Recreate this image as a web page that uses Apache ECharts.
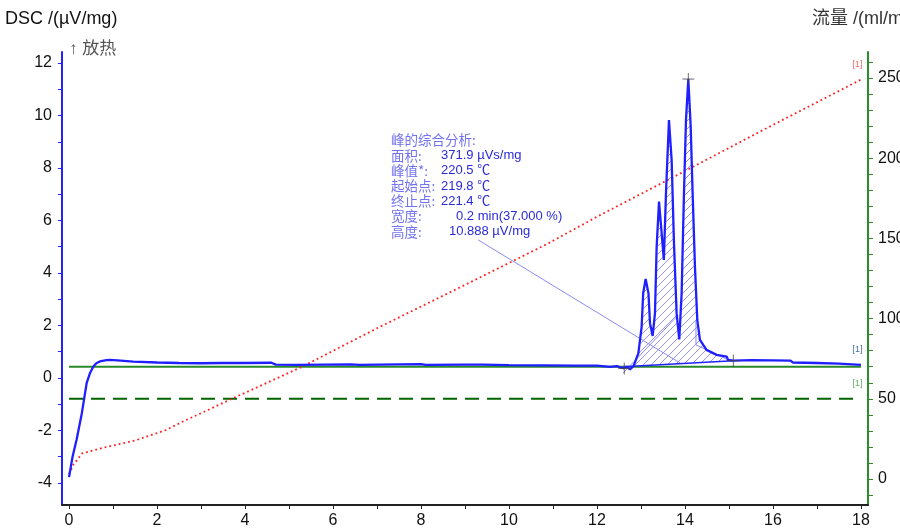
<!DOCTYPE html>
<html>
<head>
<meta charset="utf-8">
<script src="https://cdn.jsdelivr.net/npm/echarts@6/dist/echarts.min.js"></script>
<style>
  html, body { margin: 0; padding: 0; background: #fff; }
  #chart { width: 900px; height: 529px; }
</style>
</head>
<body>
<div id="chart"></div>
<script>
// DSC signal (left axis, µV/mg) against time (min)
const dscTime = [0.00, 0.08, 0.17, 0.29, 0.40, 0.48, 0.55, 0.62, 0.70, 0.85, 0.93, 1.10, 1.46, 2.0, 2.5, 3.0, 3.5, 4.0, 4.6, 4.7,
  5.2, 5.8, 6.4, 6.6, 7.5, 8.0, 8.1, 9.0, 9.4, 10.0, 10.8, 11.5, 12.0, 12.3, 12.45, 12.6, 12.68, 12.75, 12.83, 12.94,
  13.015, 13.05, 13.106, 13.17, 13.205, 13.265, 13.318, 13.356, 13.41, 13.47, 13.52, 13.568, 13.636, 13.697, 13.75, 13.81, 13.87, 13.924, 13.977, 14.023,
  14.076, 14.13, 14.174, 14.227, 14.28, 14.34, 14.49, 14.72, 14.95, 14.98, 15.1, 15.5, 16.0, 16.4, 16.45, 17.0, 17.5, 18.0];
const dscValue = [-3.78, -3.0, -2.36, -1.35, -0.2, 0.2, 0.43, 0.56, 0.63, 0.68, 0.69, 0.67, 0.62, 0.59, 0.57, 0.56, 0.57, 0.57, 0.58, 0.51,
  0.50, 0.51, 0.52, 0.50, 0.52, 0.53, 0.50, 0.51, 0.51, 0.49, 0.48, 0.47, 0.47, 0.42, 0.45, 0.37, 0.42, 0.33, 0.45, 0.94,
  1.95, 3.23, 3.77, 3.23, 2.08, 1.6, 2.46, 5.0, 6.72, 5.51, 4.5, 7.03, 9.83, 8.3, 5.13, 2.46, 1.47, 3.23, 7.03, 9.83,
  11.39, 9.57, 7.03, 4.24, 2.21, 1.45, 1.07, 0.88, 0.81, 0.69, 0.66, 0.68, 0.67, 0.66, 0.59, 0.57, 0.55, 0.50];

// red dotted curve (right axis)
const rampTime = [0, 0.1, 0.3, 0.7, 1.5, 2.2, 2.6, 3.0, 3.7, 4.5, 5.3, 7.0, 9.0, 10.9, 12.0, 14.0, 15.7, 18.0];
const rampValue = [3, 9, 16, 19, 24, 30.5, 36, 41, 50, 60, 70, 94, 121, 147, 163.5, 192, 216.5, 249];

// flow levels (right axis, ml/min)
const flowSpan = [0, 18];
const flowSolid = 70;
const flowDashed = 50;

// peak integration
const baseX = [12.6, 15.1];
const baseY = [0.43, 0.66];
const markX = [12.62, 14.076, 15.1];
const markY = [0.36, 11.39, 0.66];
const leaderLine = [[9.3, 5.26], [13.89, 0.57]];
const constructA = [[12.6, 0.2], [13.85, 2.4]];
const constructB = [[14.25, 2.2], [14.25, 1.26], [14.98, 0.69]];

// axes
const xLabels = [0, 2, 4, 6, 8, 10, 12, 14, 16, 18];
const xTicks = [0, 1, 2, 3, 4, 5, 6, 7, 8, 9, 10, 11, 12, 13, 14, 15, 16, 17, 18];
const leftLabels = [-4, -2, 0, 2, 4, 6, 8, 10, 12];
const leftTicks = [-4, -3, -2, -1, 0, 1, 2, 3, 4, 5, 6, 7, 8, 9, 10, 11, 12];
const rightLabels = [0, 50, 100, 150, 200, 250];
const rightTicks = [-10, 0, 10, 20, 30, 40, 50, 60, 70, 80, 90, 100, 110, 120, 130, 140, 150, 160, 170, 180, 190, 200, 210, 220, 230, 240, 250, 260];

const annoLabels = ['峰的综合分析:', '面积:', '峰值*:', '起始点:', '终止点:', '宽度:', '高度:'];
const annoValues = ['', '371.9 µVs/mg', '220.5 ℃', '219.8 ℃', '221.4 ℃', '0.2 min(37.000 %)', '10.888 µV/mg'];

const pair = (xs, ys) => xs.map((x, i) => [x, ys[i]]);
const dscData = pair(dscTime, dscValue);

// outline of the integrated peak: baseline start, curve, baseline end
const peakPts = [[baseX[0], baseY[0]]]
  .concat(dscData.filter(p => p[0] > baseX[0] && p[0] < baseX[1]))
  .concat([[baseX[1], baseY[1]]]);

// diagonal hatch lines clipped to the peak outline (pixel space)
function renderHatch(params, api) {
  const pts = peakPts.map(p => api.coord(p));
  const n = pts.length;
  const step = 8;
  let lo = Infinity, hi = -Infinity;
  pts.forEach(p => { lo = Math.min(lo, p[0] + p[1]); hi = Math.max(hi, p[0] + p[1]); });
  const children = [];
  for (let c = Math.ceil(lo / step) * step; c <= hi; c += step) {
    const xs = [];
    for (let i = 0; i < n; i++) {
      const a = pts[i], b = pts[(i + 1) % n];
      const fa = a[0] + a[1] - c, fb = b[0] + b[1] - c;
      if ((fa < 0) !== (fb < 0)) {
        const t = fa / (fa - fb);
        xs.push(a[0] + t * (b[0] - a[0]));
      }
    }
    xs.sort((m, k) => m - k);
    for (let k = 0; k + 1 < xs.length; k += 2) {
      children.push({
        type: 'line',
        shape: { x1: xs[k], y1: c - xs[k], x2: xs[k + 1], y2: c - xs[k + 1] },
        style: { stroke: '#9494f6', lineWidth: 1 },
      });
    }
  }
  return { type: 'group', children: children };
}

const FONT = '"Liberation Sans", Arial, "Noto Sans CJK SC", sans-serif';
const CJK = '"Noto Sans CJK SC", sans-serif';

const chart = echarts.init(document.getElementById('chart'));

const endTag = (color, dx, dy) => ({
  symbol: 'circle', symbolSize: 1, silent: true,
  itemStyle: { color: 'rgba(0,0,0,0)' },
  label: { show: true, formatter: '[1]', position: [dx, dy], fontSize: 9, color: color, fontFamily: FONT },
});

const graphics = [
  { type: 'text', left: 5, top: 10, style: { text: 'DSC /(µV/mg)', font: '18px ' + FONT, fill: '#111' } },
  { type: 'text', left: 812, top: 10, style: { text: '流量 /(ml/min)', font: '18px ' + FONT, fill: '#333' } },
  { type: 'text', left: 69, top: 41, style: { text: '↑ 放热', font: '17px ' + FONT, fill: '#555' } },
];
const annoY = [140, 155.5, 170.7, 186, 201, 216, 231.5];
const annoX = [441, 441, 441, 441, 441, 456, 449];
annoLabels.forEach((t, i) => {
  graphics.push({ type: 'text', style: { x: 391, y: annoY[i], text: t, verticalAlign: 'middle', font: '13.5px ' + CJK, fill: '#7272f0' } });
  if (annoValues[i]) {
    graphics.push({ type: 'text', style: { x: annoX[i], y: annoY[i], text: annoValues[i], verticalAlign: 'middle', font: '13px ' + FONT, fill: '#2a2ad8' } });
  }
});

const option = {
  animation: false,
  backgroundColor: '#fff',
  grid: { left: 62, right: 32, top: 52, bottom: 24, outerBoundsMode: 'none', containLabel: false },
  xAxis: {
    type: 'value', min: -0.16, max: 18.16,
    splitLine: { show: false },
    axisLine: { onZero: false, lineStyle: { color: '#222', width: 2 } },
    axisTick: { customValues: xTicks, length: 4, lineStyle: { color: '#222' } },
    axisLabel: { customValues: xLabels, fontSize: 16, color: '#111', margin: 8, fontFamily: FONT },
  },
  yAxis: [
    {
      type: 'value', position: 'left', min: -4.84, max: 12.42,
      splitLine: { show: false },
      axisLine: { show: true, onZero: false, lineStyle: { color: '#2222ff', width: 2 } },
      axisTick: { show: true, customValues: leftTicks, length: 4, lineStyle: { color: '#2222ff' } },
      axisLabel: { customValues: leftLabels, fontSize: 16, color: '#111', margin: 10, fontFamily: FONT },
    },
    {
      type: 'value', position: 'right', min: -16.2, max: 266.2,
      splitLine: { show: false },
      axisLine: { show: true, onZero: false, lineStyle: { color: '#2e8b2e', width: 2 } },
      axisTick: { show: true, customValues: rightTicks, length: 5, lineStyle: { color: '#2e8b2e' } },
      axisLabel: { customValues: rightLabels, fontSize: 16, color: '#111', margin: 10, fontFamily: FONT },
    },
  ],
  graphic: graphics,
  series: [
    {
      type: 'custom', yAxisIndex: 0, silent: true, z: 1,
      data: [0],
      renderItem: renderHatch,
    },
    {
      type: 'line', yAxisIndex: 1, showSymbol: false, silent: true, z: 2,
      data: pair(flowSpan, [flowDashed, flowDashed]),
      lineStyle: { color: '#006400', width: 2, type: [14, 8] },
      markPoint: { data: [{ coord: [flowSpan[1], flowDashed], ...endTag('#66aa66', -8, -19) }] },
    },
    {
      type: 'line', yAxisIndex: 1, showSymbol: false, silent: true, z: 2,
      data: pair(flowSpan, [flowSolid, flowSolid]),
      lineStyle: { color: '#2a8a2a', width: 2 },
    },
    {
      type: 'line', yAxisIndex: 1, showSymbol: false, silent: true, z: 3,
      data: pair(rampTime, rampValue),
      lineStyle: { color: '#ff2222', width: 1.8, type: [1.8, 3] },
      markPoint: { data: [{ coord: [rampTime[rampTime.length - 1], rampValue[rampValue.length - 1]], ...endTag('#ff6666', -8, -19) }] },
    },
    {
      type: 'lines', coordinateSystem: 'cartesian2d', yAxisIndex: 0, polyline: true, silent: true, z: 3,
      lineStyle: { color: '#8c8cf2', width: 1, opacity: 1 },
      data: [{ coords: leaderLine }, { coords: constructA }, { coords: constructB }],
    },
    {
      type: 'line', yAxisIndex: 0, showSymbol: false, silent: true, z: 4,
      data: pair(baseX, baseY),
      lineStyle: { color: '#2222ff', width: 1.5 },
    },
    {
      type: 'line', yAxisIndex: 0, showSymbol: false, silent: true, z: 5,
      data: dscData,
      lineStyle: { color: '#1f1fff', width: 2.3 },
      markPoint: { data: [{ coord: dscData[dscData.length - 1], ...endTag('#4a6fa0', -8, -19) }] },
    },
    {
      type: 'scatter', yAxisIndex: 0, silent: true, z: 6,
      data: pair(markX, markY),
      symbol: 'path://M0,5 L10,5 M5,0 L5,10',
      symbolSize: 12,
      itemStyle: { color: 'none', borderColor: '#444', borderWidth: 1 },
    },
  ],
};

chart.setOption(option);
</script>
</body>
</html>
